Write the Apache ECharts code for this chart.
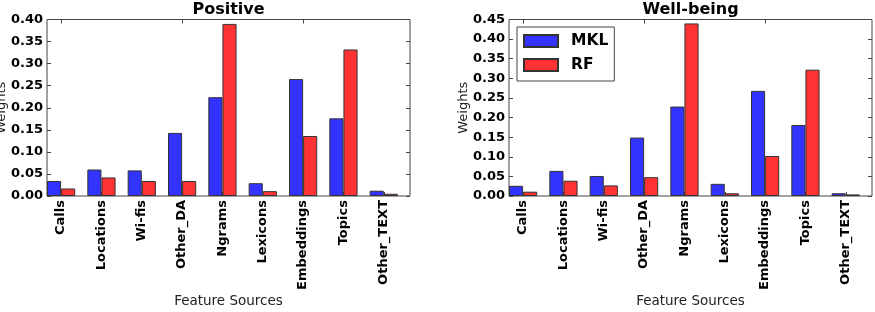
<!DOCTYPE html>
<html>
<head>
<meta charset="utf-8">
<script src="https://cdn.jsdelivr.net/npm/echarts@6/dist/echarts.min.js"></script>
<style>
  html, body { margin: 0; padding: 0; background: #fff; }
  #main { width: 875px; height: 312px; }
</style>
</head>
<body>
<div id="main"></div>
<script>
const categories = ['Calls', 'Locations', 'Wi-fis', 'Other_DA', 'Ngrams', 'Lexicons', 'Embeddings', 'Topics', 'Other_TEXT'];

// Positive
const positiveMKL = [0.034, 0.060, 0.058, 0.143, 0.224, 0.029, 0.265, 0.176, 0.012];
const positiveRF = [0.017, 0.042, 0.034, 0.034, 0.390, 0.011, 0.136, 0.332, 0.005];

// Well-being
const wellMKL = [0.026, 0.064, 0.051, 0.149, 0.228, 0.031, 0.268, 0.181, 0.007];
const wellRF = [0.011, 0.039, 0.027, 0.048, 0.440, 0.007, 0.102, 0.322, 0.004];

const positiveMax = 0.40;
const wellMax = 0.45;
const tickStep = 0.05;

const FONT = 'DejaVu Sans';
const FRAME = '#444';
const BLUE = '#3333ff';
const RED = '#ff3333';

// plot frames (matplotlib axes) and the bar grids shifted by 0.15 of a slot,
// so the bar groups sit at the left of each slot like in matplotlib
const frameW = 363, frameTop = 19.5, frameH = 176.5;
const slot = frameW / categories.length;
const shift = slot * 0.15;
const leftFrameX = 47, rightFrameX = 509;

const chart = echarts.init(document.getElementById('main'));

function catAxis(grid, pos, withLabels) {
  return {
    type: 'category', gridIndex: grid, position: pos, data: categories,
    axisLine: { show: false },
    axisTick: { show: true, inside: true, alignWithLabel: true, length: 4, lineStyle: { color: FRAME } },
    axisLabel: withLabels ? {
      show: true, rotate: 90, margin: 4, fontFamily: FONT, fontWeight: 'bold', fontSize: 13, color: '#000'
    } : { show: false },
    splitLine: { show: false }
  };
}

function nameAxis(grid) {
  return {
    type: 'category', gridIndex: grid, data: categories,
    axisLine: { show: false }, axisTick: { show: false }, axisLabel: { show: false },
    name: 'Feature Sources', nameLocation: 'middle', nameGap: 98,
    nameTextStyle: { fontFamily: FONT, fontSize: 13.5, color: '#222' }
  };
}

function hiddenY(grid, max) {
  return { type: 'value', gridIndex: grid, min: 0, max: max, show: false };
}

function labelY(grid, max) {
  return {
    type: 'value', gridIndex: grid, min: 0, max: max, interval: tickStep,
    axisLine: { show: false },
    axisTick: { show: true, inside: true, length: 4, lineStyle: { color: FRAME } },
    axisLabel: {
      margin: 4, fontFamily: FONT, fontWeight: 'bold', fontSize: 13, color: '#000',
      formatter: v => v.toFixed(2)
    },
    splitLine: { show: false },
    name: 'Weights', nameLocation: 'middle', nameGap: 39, nameMoveOverlap: false,
    nameTextStyle: { fontFamily: FONT, fontSize: 13, color: '#222' }
  };
}

function rightY(grid, max) {
  return {
    type: 'value', gridIndex: grid, position: 'right', min: 0, max: max, interval: tickStep,
    axisLine: { show: false },
    axisTick: { show: true, inside: true, length: 4, lineStyle: { color: FRAME } },
    axisLabel: { show: false },
    splitLine: { show: false }
  };
}

function bars(name, data, color, xi, yi) {
  return {
    name: name, type: 'bar', data: data,
    xAxisIndex: xi, yAxisIndex: yi,
    barWidth: '35%', barGap: '0%',
    itemStyle: { color: color, borderColor: '#333', borderWidth: 1 }
  };
}

function grid(left, framed) {
  const g = { left: left, top: frameTop, width: frameW, height: frameH, outerBoundsMode: 'none' };
  if (framed) {
    g.show = true;
    g.borderColor = FRAME;
    g.borderWidth = 1;
    g.backgroundColor = 'transparent';
  }
  return g;
}

const option = {
  animation: false,
  backgroundColor: '#fff',
  title: [
    { text: 'Positive', left: leftFrameX + frameW / 2, textAlign: 'center', top: 2, padding: 0,
      textStyle: { fontFamily: FONT, fontWeight: 'bold', fontSize: 16, color: '#000' } },
    { text: 'Well-being', left: rightFrameX + frameW / 2, textAlign: 'center', top: 2, padding: 0,
      textStyle: { fontFamily: FONT, fontWeight: 'bold', fontSize: 16, color: '#000' } }
  ],
  legend: {
    data: ['MKL', 'RF'],
    icon: 'rect',
    orient: 'vertical',
    left: 517, top: 27,
    padding: [5, 6, 7, 6],
    itemGap: 6,
    itemWidth: 34, itemHeight: 12,
    borderColor: FRAME, borderWidth: 1,
    textStyle: { fontFamily: FONT, fontWeight: 'bold', fontSize: 15.5, color: '#000', lineHeight: 18, padding: [0, 0, 0, 8] }
  },
  grid: [
    grid(leftFrameX - shift, false),
    grid(leftFrameX, true),
    grid(rightFrameX - shift, false),
    grid(rightFrameX, true)
  ],
  xAxis: [
    catAxis(0, 'bottom', true),
    catAxis(0, 'top', false),
    nameAxis(1),
    catAxis(2, 'bottom', true),
    catAxis(2, 'top', false),
    nameAxis(3)
  ],
  yAxis: [
    hiddenY(0, positiveMax),
    labelY(1, positiveMax),
    rightY(1, positiveMax),
    hiddenY(2, wellMax),
    labelY(3, wellMax),
    rightY(3, wellMax)
  ],
  series: [
    bars('MKL', positiveMKL, BLUE, 0, 0),
    bars('RF', positiveRF, RED, 0, 0),
    bars('MKL', wellMKL, BLUE, 3, 3),
    bars('RF', wellRF, RED, 3, 3)
  ]
};

chart.setOption(option);
</script>
</body>
</html>
